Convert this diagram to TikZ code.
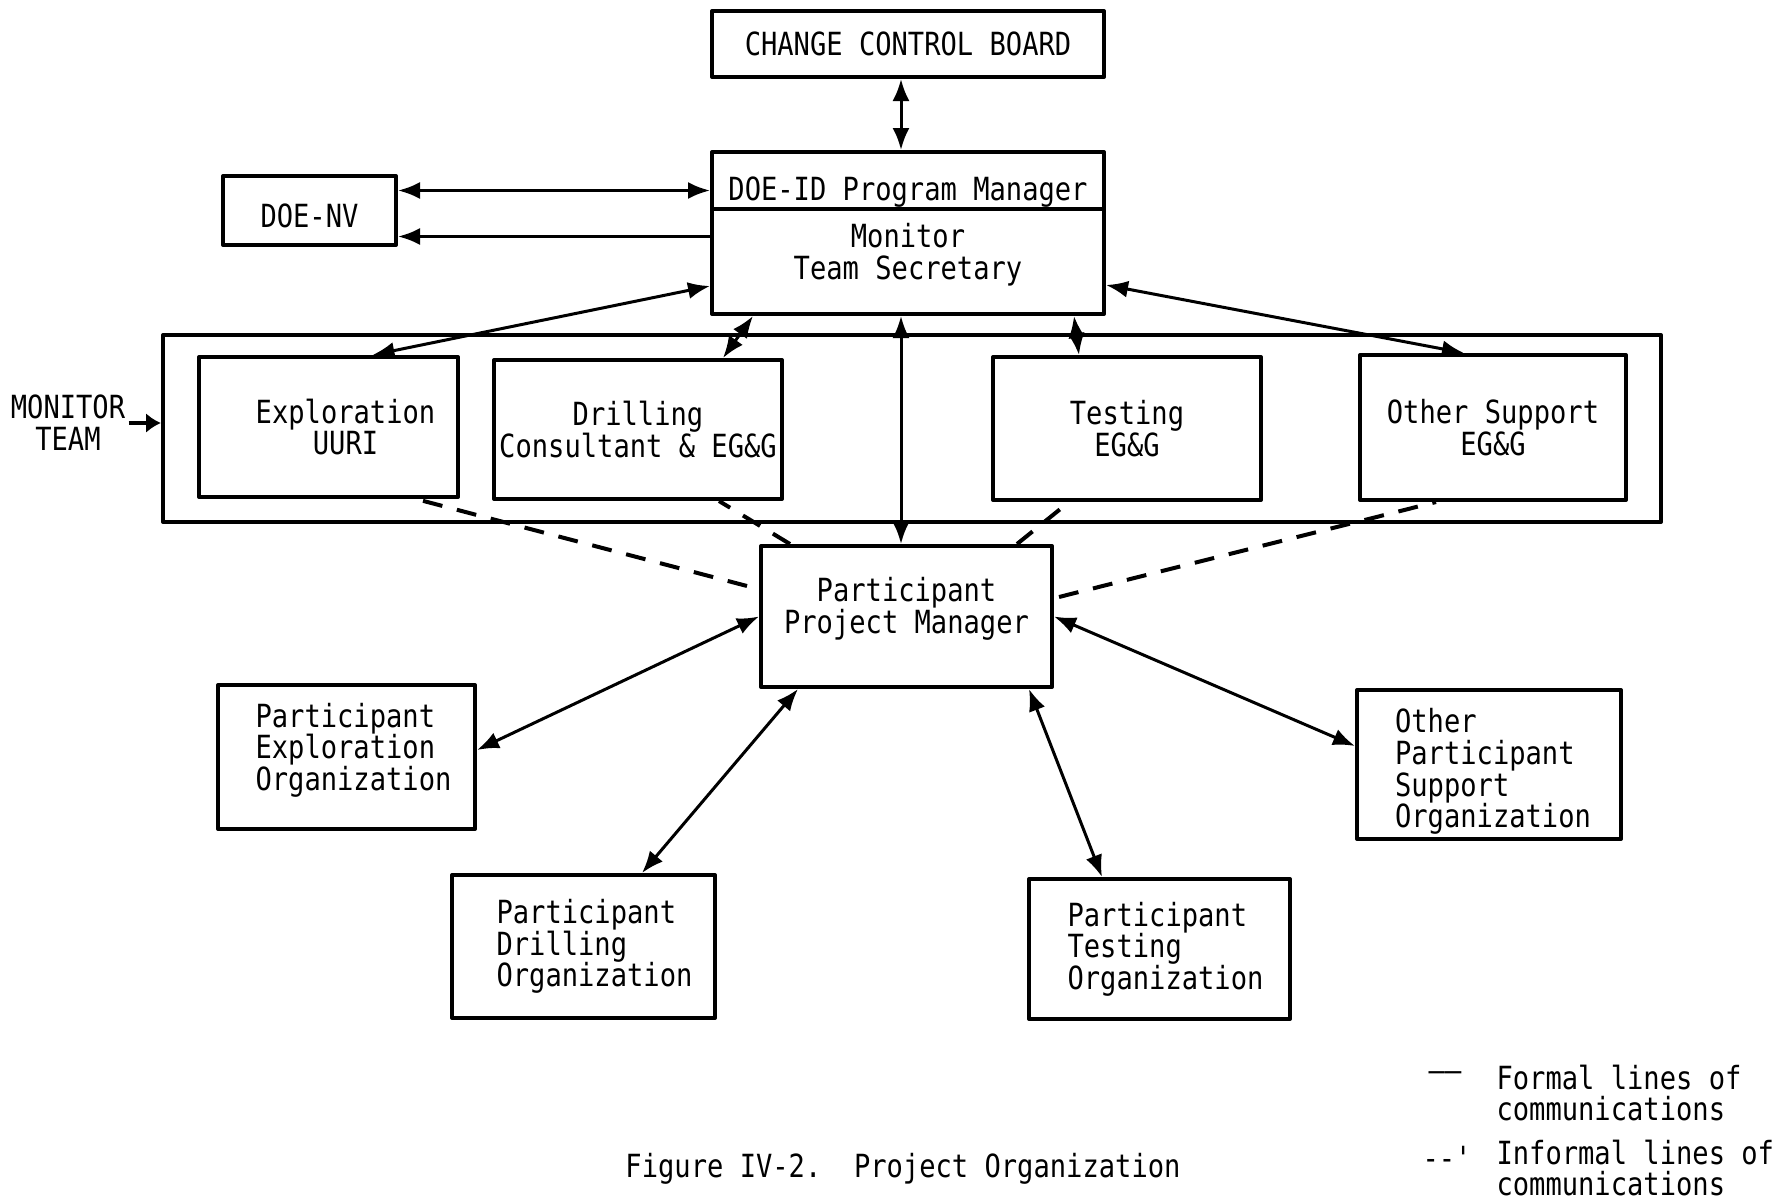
\documentclass[tikz,border=0pt]{standalone}
\usepackage{fontspec}
\setmonofont[FakeStretch=0.85]{DejaVu Sans Mono}
\usetikzlibrary{arrows.meta}

\begin{document}
\begin{tikzpicture}[line join = round,>={Latex[length=22pt,width=17pt]},x = 1pt,y = -1pt,
	font=\fontsize{31.9}{31.7}\selectfont\ttfamily,
	orgbox/.style={draw,line width=4pt,inner sep=0pt},
	formal/.style={<->,line width=3pt},
	informal/.style={line width=4pt,dash pattern=on 20pt off 15pt}]
	\fill[white] (0,0) rectangle (1773,1203);
	\useasboundingbox (0,0) rectangle (1773,1203);
	%Các hộp phía trên
	\node[orgbox,minimum width=392pt,minimum height=66pt] (ccb) at (908,44) {CHANGE CONTROL BOARD};
	\node[orgbox,minimum width=392pt,minimum height=57pt] (doeid) at (908,180.5) {};
	\node[orgbox,minimum width=392pt,minimum height=105pt] (mon) at (908,261.5) {};
	\node[orgbox,minimum width=173pt,minimum height=69pt] (doenv) at (309.5,210.5) {};
	\node (doeid-t) at ([yshift=-12pt]doeid) {DOE-ID Program Manager};
	\node[align=center] (mon-t) at ([yshift=7pt]mon) {Monitor\\Team Secretary};
	\node (doenv-t) at ([yshift=-5pt]doenv) {DOE-NV};
	%Nhóm giám sát
	\node[draw,line width=4pt,minimum width=1498pt,minimum height=187pt] (team) at (912,428.5) {};
	\node[orgbox,minimum width=259pt,minimum height=140pt] (expl) at (328.5,427) {};
	\node[orgbox,align=center,minimum width=288pt,minimum height=139pt] (drill) at (638,429.5) {Drilling\\Consultant \& EG\&G};
	\node[orgbox,align=center,minimum width=268pt,minimum height=143pt] (test) at (1127,428.5) {Testing\\EG\&G};
	\node[orgbox,align=center,minimum width=266pt,minimum height=145pt] (other) at (1493,427.5) {Other Support\\EG\&G};
	\node[align=center] (expl-t) at ([xshift=17pt]expl) {Exploration\\UURI};
	\node[align=center] (mt) at (68,423) {MONITOR\\TEAM};
	%Các hộp phía dưới
	\node[orgbox,minimum width=291pt,minimum height=141pt] (ppm) at (906.5,616.5) {};
	\node[orgbox,minimum width=257pt,minimum height=144pt] (pexp) at (346.5,757) {};
	\node[orgbox,minimum width=263pt,minimum height=143pt] (pdrill) at (583.5,946.5) {};
	\node[orgbox,minimum width=261pt,minimum height=140pt] (ptest) at (1159.5,949) {};
	\node[orgbox,minimum width=264pt,minimum height=149pt] (pother) at (1489,764.5) {};
	\node[align=center] (ppm-t) at ([yshift=8pt]ppm) {Participant\\Project Manager};
	\node[align=left] (pexp-t) at ([xshift=7pt,yshift=7pt]pexp) {Participant\\Exploration\\Organization};
	\node[align=left] (pdrill-t) at ([xshift=11pt]pdrill) {Participant\\Drilling\\Organization};
	\node[align=left] (ptest-t) at ([xshift=6pt]ptest) {Participant\\Testing\\Organization};
	\node[align=left] (pother-t) at ([xshift=4pt,yshift=-7pt]pother) {Other\\Participant\\Support\\Organization};
	%Đường liên lạc chính thức
	\draw[formal] ([xshift=-7pt]ccb.south) -- ([xshift=-7pt]doeid.north);
	\draw[formal] ([yshift=20pt]doenv.east) -- ([yshift=20pt]doenv.east -| doeid.west);
	\draw[->,line width=3pt] ([yshift=25pt]mon.west) -- ([yshift=25pt]mon.west -| doenv.east);
	\draw[formal] ([yshift=-24.5pt]mon.west) -- ([xshift=44pt]expl.north);
	\draw[formal] ([xshift=43pt]mon.south west) -- ([xshift=-61pt]drill.north east);
	\draw[formal] ([xshift=-7pt]mon.south) -- ([xshift=-5.5pt]ppm.north);
	\draw[formal] ([xshift=-32pt]mon.south east) -- ([xshift=88pt]test.north west);
	\draw[formal] ([yshift=-23.5pt]mon.east) -- ([xshift=-29pt]other.north);
	\draw[-{Latex[length=15pt,width=20pt]},line width=4pt] (mt.east) -- (mt.east -| team.west);
	\draw[formal] (ppm.west) -- ([yshift=7pt]pexp.east);
	\draw[formal] ([xshift=39pt]ppm.south west) -- ([xshift=58.5pt]pdrill.north);
	\draw[formal] ([xshift=-25pt]ppm.south east) -- ([xshift=-57.5pt]ptest.north);
	\draw[formal] (ppm.east) -- ([yshift=18.5pt]pother.west);
	%Đường liên lạc không chính thức
	\draw[informal] ([xshift=-12pt,yshift=-42pt]ppm.north west) -- ([xshift=87.5pt]expl.south);
	\draw[informal] ([xshift=31pt]ppm.north west) -- ([xshift=81pt]drill.south);
	\draw[informal] ([xshift=-37pt]ppm.north east) -- ([xshift=-58pt]test.south);
	\draw[informal] ([xshift=5pt,yshift=-53pt]ppm.north east) -- ([xshift=-57pt]other.south);
	%Chú thích
	\node (cap) at (903,1169) {Figure IV-2.~~Project Organization};
	\node (lgf) at (1445,1077) {——};
	\node[anchor=west,align=left] (lgft) at (1493,1093) {Formal lines of\\communications};
	\node (lgi) at (1447,1158) {-{}-'};
	\node[anchor=west,align=left] (lgit) at (1493,1168) {Informal lines of\\communications};
\end{tikzpicture}
\end{document}
